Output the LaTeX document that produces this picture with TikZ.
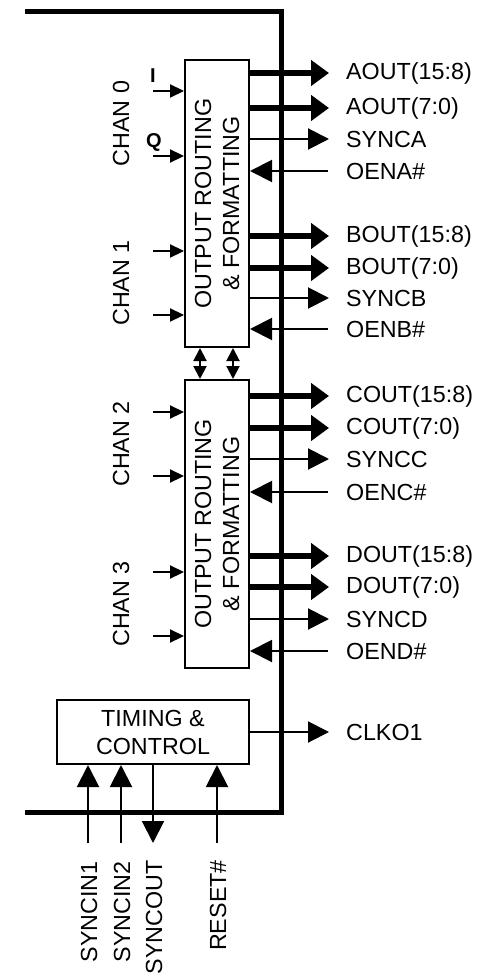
\documentclass[tikz,border=0pt]{standalone}
\usepackage{fontspec}
\setmainfont{Liberation Sans}
\usetikzlibrary{arrows.meta,calc}
\begin{document}
\begin{tikzpicture}[
  txt/.style={font=\fontsize{23.3}{28}\selectfont, inner sep=0pt},
  lbl/.style={txt, anchor=west},
  vlbl/.style={txt, rotate=90},
  blk/.style={draw, line width=2pt, inner sep=0pt},
  bus/.style={line width=5.5pt, -{Triangle[length=18pt,width=25pt]}},
  sig/.style={line width=2pt, -{Triangle[length=21pt,width=21pt]}},
  oen/.style={line width=2pt, -{Triangle[length=22pt,width=22pt]}},
  chin/.style={line width=2.2pt, -{Triangle[length=14pt,width=13pt]}},
  bidir/.style={line width=2pt, {Triangle[length=13pt,width=13pt]}-{Triangle[length=13pt,width=13pt]}},
  bot/.style={line width=2pt, -{Triangle[length=22pt,width=22pt]}},
  frame/.style={line width=5pt, line join=miter}
]
\useasboundingbox (0,0) rectangle (485pt,-976pt);
\begin{scope}[x=1pt,y=1pt]
% blocks
\node[blk, minimum width=64pt, minimum height=287pt] (box1) at (217,-203.5) {};
\node[blk, minimum width=64pt, minimum height=288pt] (box2) at (217,-524) {};
\node[blk, minimum width=192pt, minimum height=64pt, txt, align=center] (tc) at (153,-732) {TIMING \&\\CONTROL};
\node[vlbl, align=center] (t1) at (217,-203.5) {OUTPUT ROUTING\\\& FORMATTING};
\node[vlbl, align=center] (t2) at (217,-524) {OUTPUT ROUTING\\\& FORMATTING};

% frame
\coordinate (f1) at (25,-12);
\coordinate (f2) at (281,-12);
\coordinate (f3) at (281,-812);
\coordinate (f4) at (25,-812);
\draw[frame] (f1) -- (f2) -- (f3) -- (f4);

% right side signals
\foreach \y/\t/\s/\b in {
  73/AOUT(15:8)/bus/box1, 108/AOUT(7:0)/bus/box1, 139/SYNCA/sig/box1,
  236/BOUT(15:8)/bus/box1, 268/BOUT(7:0)/bus/box1, 298/SYNCB/sig/box1,
  396/COUT(15:8)/bus/box2, 428/COUT(7:0)/bus/box2, 459/SYNCC/sig/box2,
  556/DOUT(15:8)/bus/box2, 587/DOUT(7:0)/bus/box2, 619/SYNCD/sig/box2}{
  \node[lbl] (r\y) at (346,-\y) {\t};
  \coordinate (e\y) at (329,-\y);
  \draw[\s] (\b.east |- r\y) -- (e\y);
}
\foreach \y/\t/\b in {171/OENA/box1, 329/OENB/box1, 492/OENC/box2, 651/OEND/box2}{
  \node[lbl] (r\y) at (346,-\y) {\t\#};
  \coordinate (e\y) at (328,-\y);
  \draw[oen] (e\y) -- (\b.east |- r\y);
}
% CLKO1
\node[lbl] (clk) at (346,-732) {CLKO1};
\coordinate (eclk) at (329,-732);
\draw[sig] (tc.east |- clk) -- (eclk);

% left channel inputs
\foreach \y/\b in {91/box1,156/box1,251/box1,315/box1,412/box2,476/box2,572/box2,636/box2}{
  \coordinate (s\y) at (153,-\y);
  \draw[chin] (s\y) -- (\b.west |- s\y);
}
\node[vlbl] (c0) at (121,-123.5) {CHAN 0};
\node[vlbl] (c1) at (121,-283) {CHAN 1};
\node[vlbl] (c2) at (121,-444) {CHAN 2};
\node[vlbl] (c3) at (121,-604) {CHAN 3};
\node[font=\fontsize{20}{21}\selectfont\bfseries, inner sep=0pt] (iq) at (153,-76) {I};
\node[font=\fontsize{20}{21}\selectfont\bfseries, inner sep=0pt] (qq) at (154,-142.5) {Q};

% bidirectional links
\draw[bidir] (box1.south -| 200,0) -- (box2.north -| 200,0);
\draw[bidir] (box1.south -| 233,0) -- (box2.north -| 233,0);

% bottom signals
\coordinate (b1) at (88,-843);
\coordinate (b2) at (121,-843);
\coordinate (b3) at (153,-843);
\coordinate (b4) at (217,-843);
\draw[bot] (b1) -- (tc.south -| b1);
\draw[bot] (b2) -- (tc.south -| b2);
\draw[bot] (tc.south -| b3) -- (b3);
\draw[bot] (b4) -- (tc.south -| b4);
\node[vlbl, anchor=east] (n1) at (89,-861) {SYNCIN1};
\node[vlbl, anchor=east] (n2) at (122,-861) {SYNCIN2};
\node[vlbl, anchor=east] (n3) at (154,-860) {SYNCOUT};
\node[vlbl, anchor=east] (n4) at (218,-860) {RESET\#};
\end{scope}
\end{tikzpicture}
\end{document}
